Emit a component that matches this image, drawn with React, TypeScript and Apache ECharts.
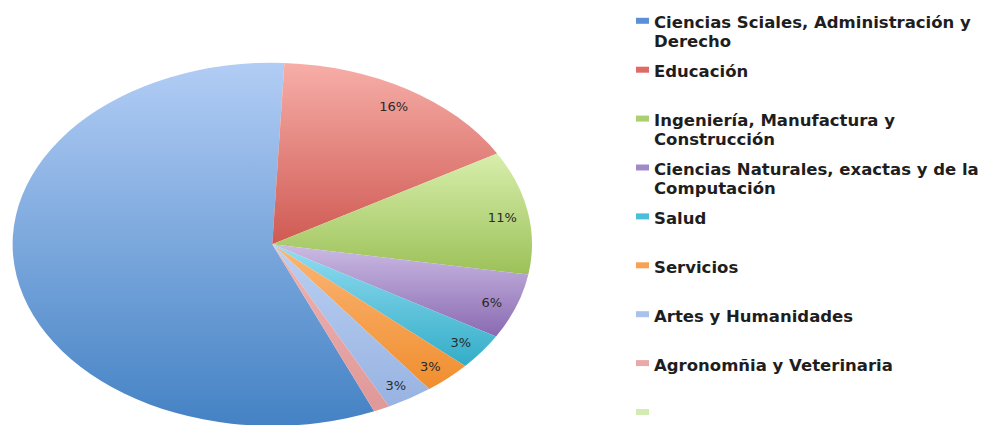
import React, { useEffect, useRef } from "react";
import * as echarts from "echarts";

const categories = [
  "Ciencias Sciales, Administración y\nDerecho",
  "Educación",
  "Ingeniería, Manufactura y\nConstrucción",
  "Ciencias Naturales, exactas y de la\nComputación",
  "Salud",
  "Servicios",
  "Artes y Humanidades",
  "Agronomñia y Veterinaria",
  " ",
];
const shares = [57.1, 15.9, 11.0, 5.8, 3.2, 3.0, 2.9, 1.0, 0];
const showLabel = [false, true, true, true, true, true, true, false, false];

const topColors = ["#b2cdf5", "#f7aea8", "#d8eeac", "#cbbbe3", "#93ddf1", "#fbb676", "#bad0f2", "#efb3b3", "#d6eebc"];
const bottomColors = ["#4482c4", "#cf5a53", "#9cc158", "#8a6ab2", "#33adc8", "#f08e2e", "#98b3e2", "#e09898", "#c4e2a0"];
const legendColors = ["#5c90d6", "#de6b65", "#acd070", "#a08ac8", "#4bbfda", "#f8a152", "#a9c1ec", "#eba8a8", "#d2ecb4"];

const CX = 272.3;
const CY = 244.3;
const RX = 259.7;
const RY = 181.6;
const FIRST_ANGLE = 156.9; // degrees clockwise from 12 o'clock
const LABEL_F = 0.9;

const FONT = "DejaVu Sans";

export default function App() {
  const ref = useRef<HTMLDivElement>(null);
  useEffect(() => {
    if (!ref.current) return;
    const chart = echarts.init(ref.current, null, { renderer: "svg" });
    const total = shares.reduce((a, b) => a + b, 0);

    const series = categories.map((name, i) => ({
      type: "custom",
      name,
      coordinateSystem: "none",
      itemStyle: { color: legendColors[i] },
      data: [shares[i]],
      renderItem: (params: any, api: any) => {
        let start = FIRST_ANGLE;
        for (let j = 0; j < i; j++) start += (shares[j] / total) * 360;
        const v = api.value(0);
        const sweep = (v / total) * 360;
        if (!(sweep > 0)) return { type: "group", children: [] };
        const a0 = ((start - 90) * Math.PI) / 180;
        const a1 = ((start + sweep - 90) * Math.PI) / 180;
        const children: any[] = [
          {
            type: "group",
            x: CX,
            y: CY,
            scaleX: RX / RY,
            children: [
              {
                type: "sector",
                shape: { cx: 0, cy: 0, r: RY, r0: 0, startAngle: a0, endAngle: a1, clockwise: true },
                style: {
                  fill: {
                    type: "linear",
                    x: 0,
                    y: 0,
                    x2: 0,
                    y2: 1,
                    colorStops: [
                      { offset: 0, color: topColors[i] },
                      { offset: 1, color: bottomColors[i] },
                    ],
                  },
                },
              },
            ],
          },
        ];
        if (showLabel[i]) {
          const mid = ((start + sweep / 2) * Math.PI) / 180;
          children.push({
            type: "text",
            x: CX + LABEL_F * RX * Math.sin(mid),
            y: CY - LABEL_F * RY * Math.cos(mid) + 2,
            style: {
              text: Math.round((v / total) * 100) + "%",
              align: "center",
              verticalAlign: "middle",
              fontFamily: FONT,
              fontSize: 13,
              fill: "#2a2a2a",
            },
          });
        }
        return { type: "group", children };
      },
    }));

    const LH = 18.5;
    const legends = categories.map((name, i) => {
      const lines = name.split("\n");
      const pad = lines.length > 1 ? LH + 4 : 4;
      const iconCenter = 20.8 + i * 48.9;
      const textH = lines.length * LH + pad;
      return {
        data: [name],
        left: 636,
        top: iconCenter - textH / 2,
        orient: "vertical",
        padding: 0,
        itemGap: 0,
        itemWidth: 13,
        itemHeight: 6,
        icon: "rect",
        selectedMode: false,
        formatter: (n: string) =>
          "{pad| }\n" + n.split("\n").map((l) => "{t|" + l + "}").join("\n"),
        textStyle: {
          fontFamily: FONT,
          fontSize: 16.5,
          fontWeight: "bold",
          color: "#1e1e1e",
          lineHeight: LH,
          rich: {
            pad: { fontSize: 1, lineHeight: pad, height: pad },
            t: {
              fontFamily: FONT,
              fontSize: 16.5,
              fontWeight: "bold",
              color: "#1e1e1e",
              lineHeight: LH,
              height: LH,
            },
          },
        },
      };
    });

    chart.setOption({
      animation: false,
      backgroundColor: "#ffffff",
      legend: legends,
      series,
    });
    return () => chart.dispose();
  }, []);
  return (
    <div
      ref={ref}
      style={{ position: "fixed", left: 0, top: 0, width: 986, height: 425 }}
    />
  );
}
